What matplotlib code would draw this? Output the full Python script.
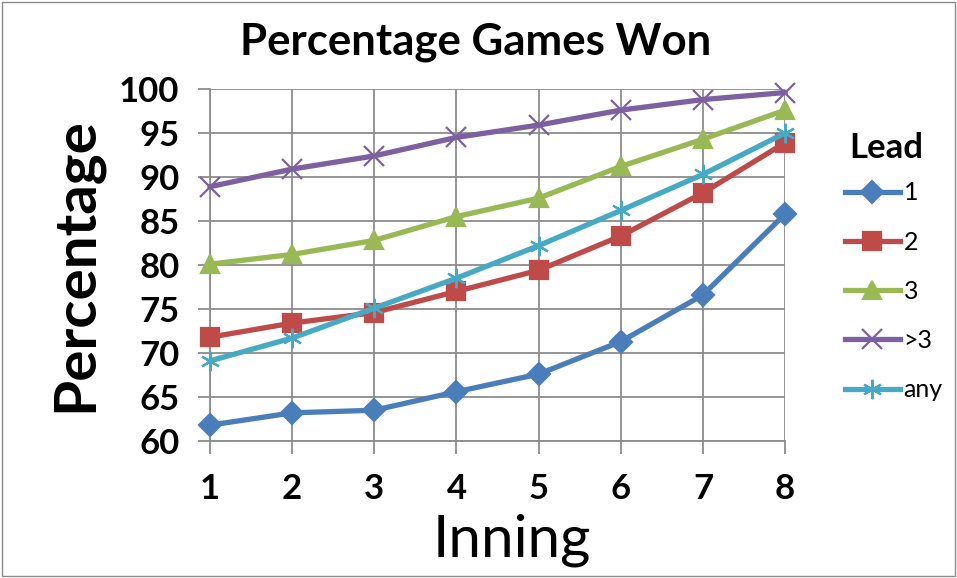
import matplotlib.pyplot as plt

plt.rcParams['font.family'] = ['Lato', 'DejaVu Sans']

innings = [1, 2, 3, 4, 5, 6, 7, 8]
lead_labels = ['1', '2', '3', '>3', 'any']
lead_1 = [61.8, 63.2, 63.5, 65.6, 67.6, 71.3, 76.6, 85.8]
lead_2 = [71.8, 73.4, 74.6, 77.0, 79.4, 83.3, 88.2, 93.9]
lead_3 = [80.1, 81.2, 82.8, 85.5, 87.6, 91.2, 94.3, 97.6]
lead_gt3 = [88.9, 90.9, 92.4, 94.5, 95.9, 97.6, 98.8, 99.6]
lead_any = [69.1, 71.7, 75.1, 78.5, 82.2, 86.2, 90.3, 95.0]

series = [lead_1, lead_2, lead_3, lead_gt3, lead_any]
colors = ['#4A7EBB', '#BE4B48', '#98B954', '#7D60A0', '#46AAC5']
markers = ['D', 's', '^', 'x', (6, 2, 0)]
msizes = [11, 12.5, 13, 14, 14]

fig = plt.figure(figsize=(9.57, 5.78), dpi=100)
ax = fig.add_axes([0.2194, 0.237, 0.601, 0.609])

for vals, lab, c, m, s in zip(series, lead_labels, colors, markers, msizes):
    ax.plot(innings, vals, color=c, lw=3.8, marker=m, ms=s, mew=1.6,
            mfc=c, mec=c, label=lab, clip_on=False, zorder=3)

ax.set_xlim(1, 8)
ax.set_ylim(60, 100)
ax.set_yticks(range(60, 101, 5))
ax.set_xticks(innings)
ax.grid(True, color='#8c8c8c', lw=1.3)
ax.set_axisbelow(True)
for s in ['top', 'right']:
    ax.spines[s].set_visible(False)
for s in ['left', 'bottom']:
    ax.spines[s].set_color('#8c8c8c')
    ax.spines[s].set_linewidth(1.3)
ax.tick_params(axis='both', length=9, color='#8c8c8c', width=1.3, labelsize=25)
ax.tick_params(axis='y', pad=13)
ax.tick_params(axis='x', pad=14)
for t in ax.get_xticklabels() + ax.get_yticklabels():
    t.set_fontweight('bold')

fig.text(476 / 957, 1 - 42 / 578, 'Percentage Games Won', fontsize=31.5, fontweight='bold',
         ha='center', va='center')
ax.set_ylabel('Percentage', fontsize=42, fontweight='bold', labelpad=12)
ax.set_xlabel('Inning', fontsize=42, labelpad=6)
ax.xaxis.label.set_x(0.525)

# legend title drawn separately so the entries can sit closer to it
fig.text(886 / 957, 1 - 148 / 578, 'Lead', fontsize=25, fontweight='bold',
         ha='center', va='center')
leg = ax.legend(loc='upper left', bbox_to_anchor=(1.082, 0.773), frameon=False,
                fontsize=18, handlelength=2.2, handletextpad=0.15, labelspacing=1.05,
                borderpad=0)

# thin frame around the whole picture
fig.patches.append(plt.Rectangle((0.002, 0.003), 0.996, 0.994, transform=fig.transFigure,
                                 fill=False, ec='#8c8c8c', lw=1))

fig.savefig('out.png', dpi=100)
